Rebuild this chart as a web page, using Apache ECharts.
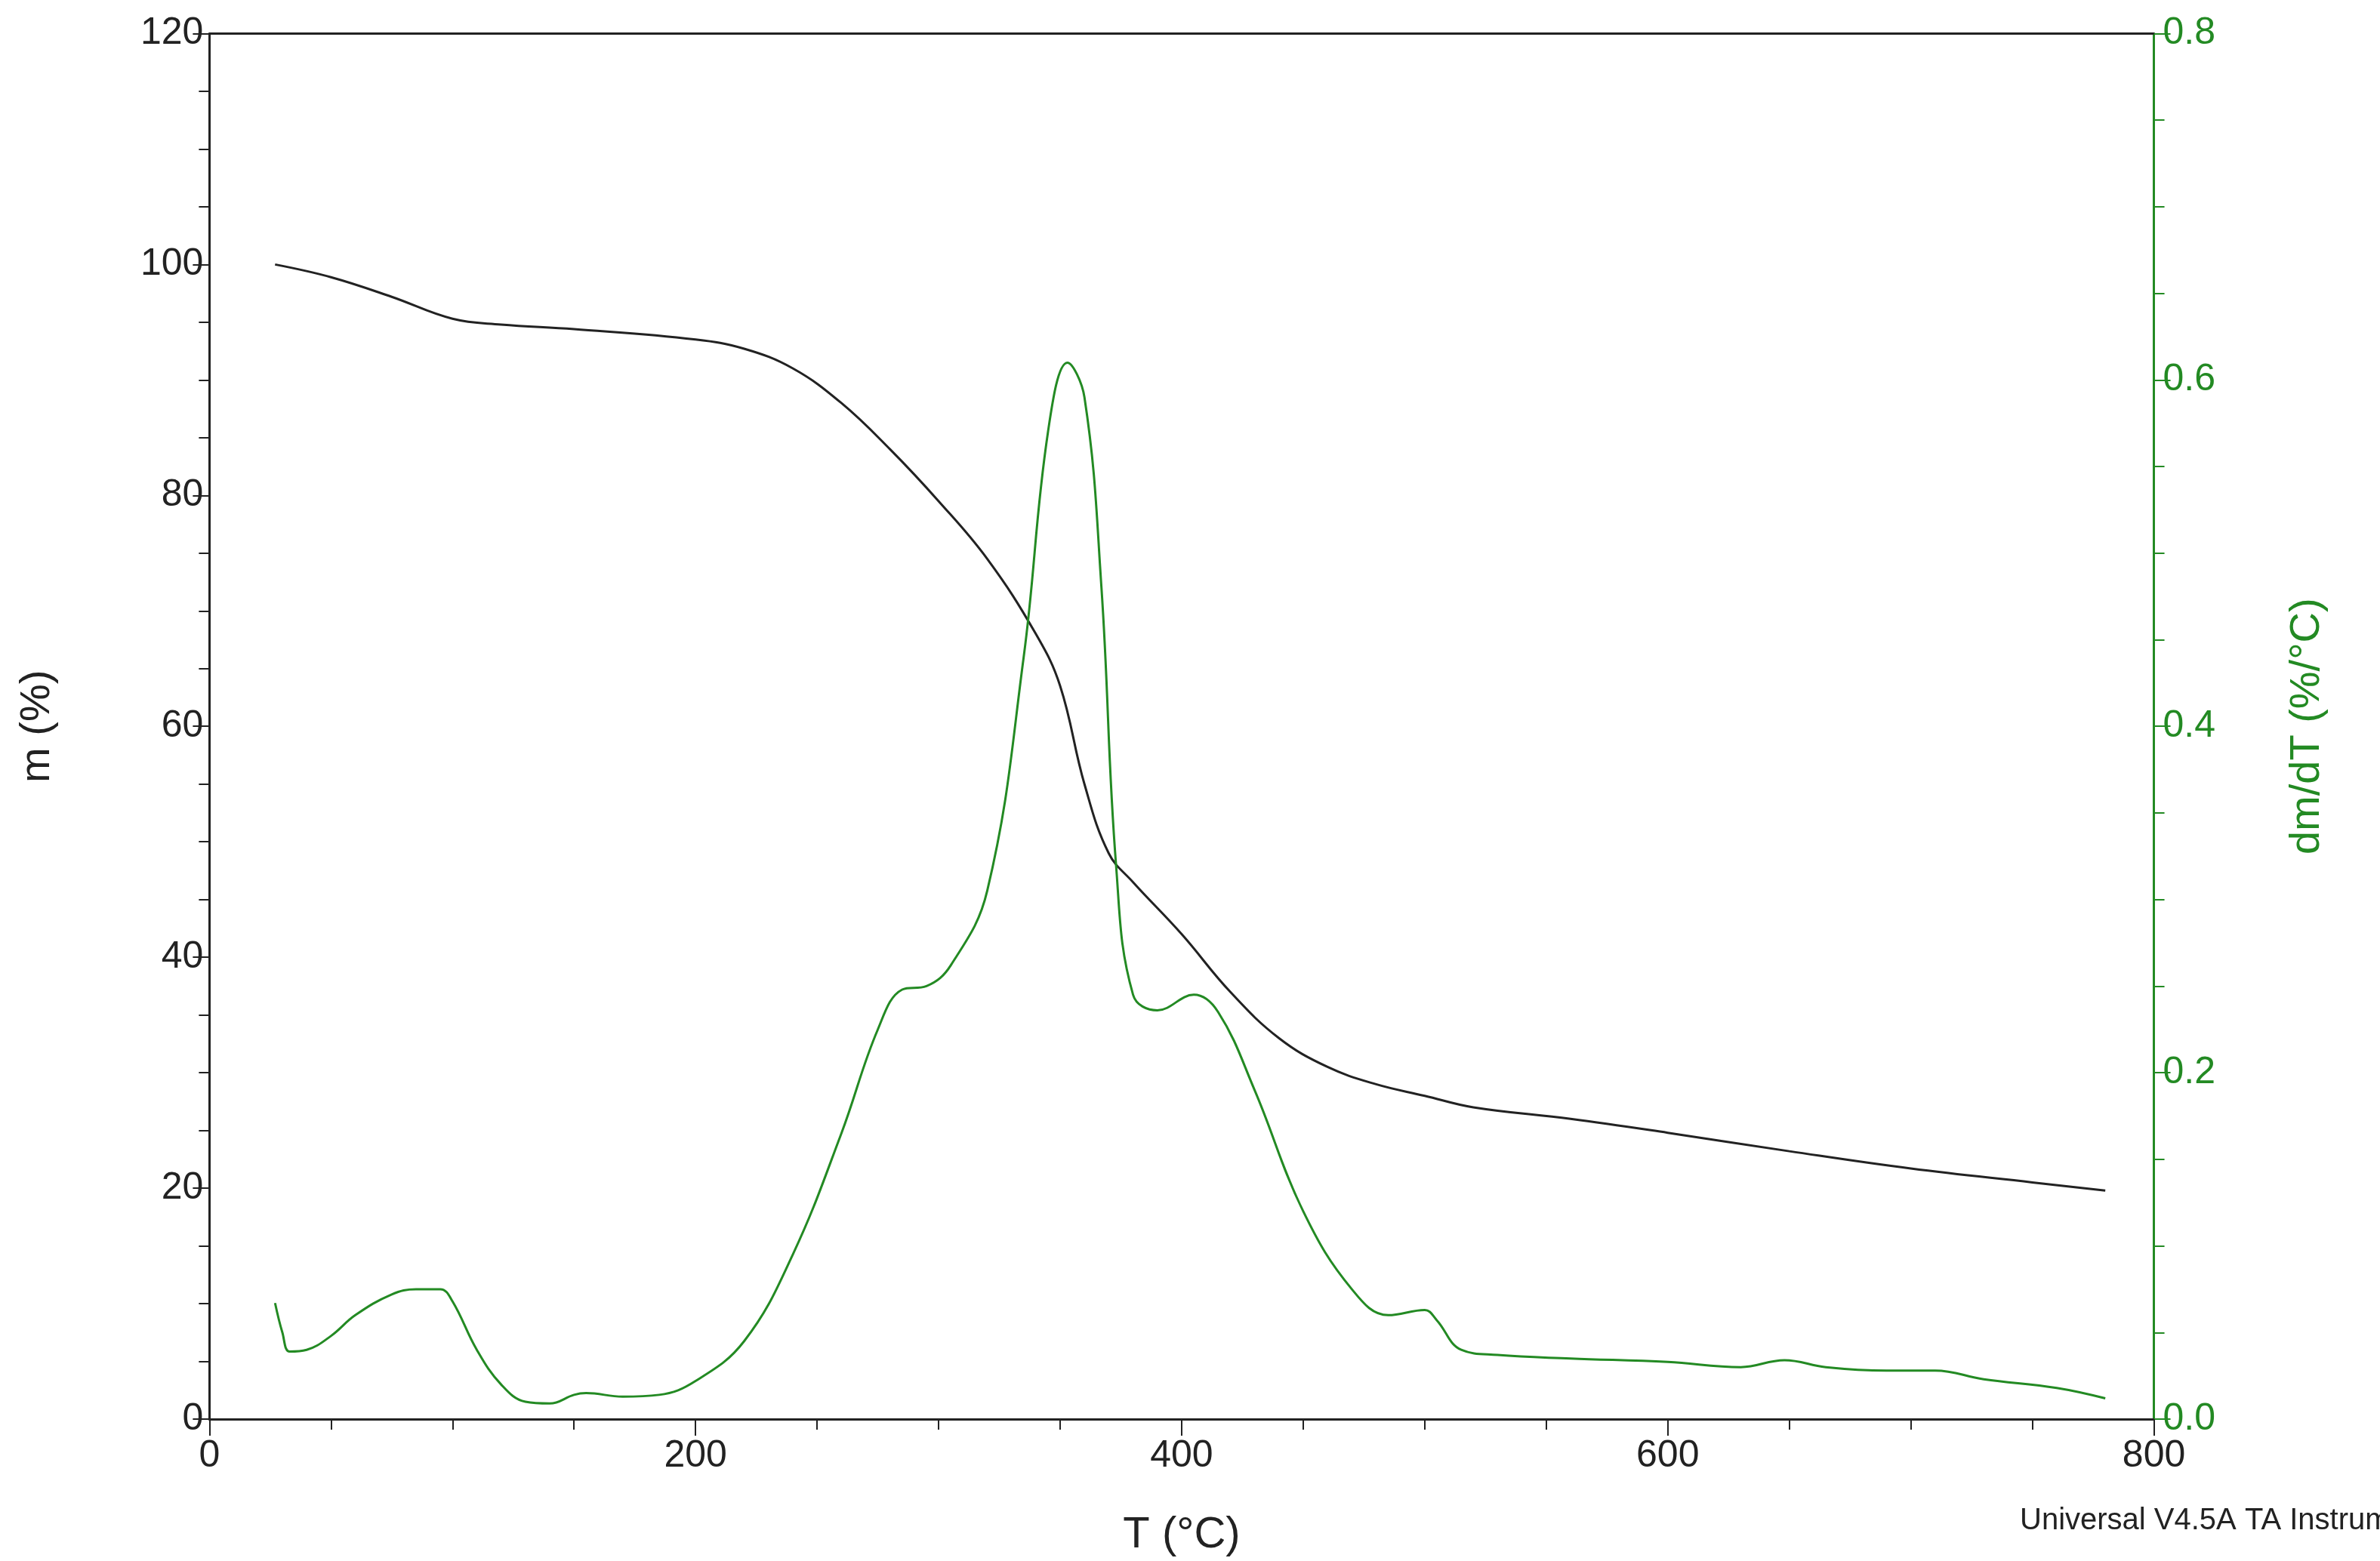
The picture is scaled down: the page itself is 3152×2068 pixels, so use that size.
<!DOCTYPE html>
<html>
<head>
<meta charset="utf-8">
<script src="https://cdn.jsdelivr.net/npm/echarts@6/dist/echarts.min.js"></script>
<style>html,body{margin:0;padding:0;background:#fff}#main{width:3152px;height:2068px}</style>
</head>
<body>
<div id="main"></div>
<script>
// mass curve (T in °C, m in %)
var massT = [27, 50, 75, 100, 120, 150, 200, 220, 240, 260, 280, 300, 320, 340, 350, 360, 370, 380, 400, 420, 440, 460, 480, 500, 520, 560, 600, 650, 700, 750, 780];
var massV = [100, 98.9, 97.2, 95.3, 94.8, 94.4, 93.5, 92.7, 91, 88, 84, 79.5, 74.5, 68, 63.5, 55, 49, 46.5, 42, 37, 33, 30.5, 29, 28, 27, 26, 24.8, 23.2, 21.7, 20.5, 19.8];
// derivative curve (T in °C, dm/dT in %/°C)
var derivT = [27, 30, 33, 40, 50, 60, 75, 85, 95, 100, 110, 120, 130, 140, 150, 155, 170, 185, 200, 220, 240, 260, 275, 285, 295, 305, 320, 335, 345, 353, 360, 367, 373, 380, 390, 405, 415, 430, 450, 470, 485, 500, 505, 515, 530, 560, 600, 630, 648, 665, 690, 710, 730, 760, 780];
var derivV = [0.067, 0.05, 0.039, 0.040, 0.048, 0.060, 0.072, 0.075, 0.075, 0.068, 0.040, 0.020, 0.010, 0.009, 0.014, 0.015, 0.013, 0.014, 0.022, 0.045, 0.095, 0.165, 0.225, 0.248, 0.250, 0.262, 0.305, 0.440, 0.570, 0.610, 0.590, 0.480, 0.320, 0.245, 0.236, 0.245, 0.235, 0.190, 0.120, 0.075, 0.060, 0.063, 0.057, 0.040, 0.037, 0.035, 0.033, 0.030, 0.034, 0.030, 0.028, 0.028, 0.023, 0.018, 0.012];

function pairs(xs, ys) {
    return xs.map(function (x, i) { return [x, ys[i]]; });
}

var black = '#222';
var green = '#238a23';
var font = 'Liberation Sans';

var chart = echarts.init(document.getElementById('main'));
var option = {
    animation: false,
    textStyle: {fontFamily: font},
    grid: {left: '8.8%', right: '9.5%', top: '2.15%', bottom: '9%'},
    xAxis: [{
        type: 'value', min: 0, max: 800, interval: 200,
        name: 'T (°C)', nameLocation: 'middle', nameGap: 125,
        nameTextStyle: {fontSize: 58, color: black},
        axisLine: {onZero: false, lineStyle: {color: black, width: 3}},
        axisTick: {length: 22, lineStyle: {color: black, width: 2}},
        minorTick: {show: true, splitNumber: 4, length: 14, lineStyle: {color: black, width: 2}},
        axisLabel: {fontSize: 50, color: black, margin: 24},
        splitLine: {show: false}
    }, {
        type: 'value', min: 0, max: 800, position: 'top',
        axisLine: {onZero: false, lineStyle: {color: black, width: 3}},
        axisTick: {show: false}, axisLabel: {show: false}, splitLine: {show: false}
    }],
    yAxis: [{
        type: 'value', min: 0, max: 120, interval: 20, position: 'left',
        name: 'm (%)', nameLocation: 'middle', nameGap: 200,
        nameTextStyle: {fontSize: 56, color: black},
        axisLine: {show: true, onZero: false, lineStyle: {color: black, width: 3}},
        axisTick: {length: 22, lineStyle: {color: black, width: 2}},
        minorTick: {show: true, splitNumber: 4, length: 14, lineStyle: {color: black, width: 2}},
        axisLabel: {fontSize: 50, color: black, margin: 8},
        splitLine: {show: false}
    }, {
        type: 'value', min: 0, max: 0.8, interval: 0.2, position: 'right',
        name: 'dm/dT (%/°C)', nameLocation: 'middle', nameGap: 175,
        nameTextStyle: {fontSize: 56, color: green},
        axisLine: {show: true, onZero: false, lineStyle: {color: green, width: 3}},
        axisTick: {length: 22, lineStyle: {color: green, width: 2}},
        minorTick: {show: true, splitNumber: 4, length: 14, lineStyle: {color: green, width: 2}},
        axisLabel: {fontSize: 50, color: green, margin: 12, formatter: function (v) { return v.toFixed(1); }},
        splitLine: {show: false}
    }],
    series: [{
        type: 'line', yAxisIndex: 0, data: pairs(massT, massV),
        smooth: 0.4, showSymbol: false,
        lineStyle: {color: black, width: 3}
    }, {
        type: 'line', yAxisIndex: 1, data: pairs(derivT, derivV),
        smooth: 0.4, showSymbol: false,
        lineStyle: {color: green, width: 3}
    }],
    graphic: [{
        type: 'text', left: 2675, top: 1995,
        style: {text: 'Universal V4.5A TA Instruments', fontSize: 40, fill: black, fontFamily: font}
    }]
};
chart.setOption(option);
</script>
</body>
</html>
